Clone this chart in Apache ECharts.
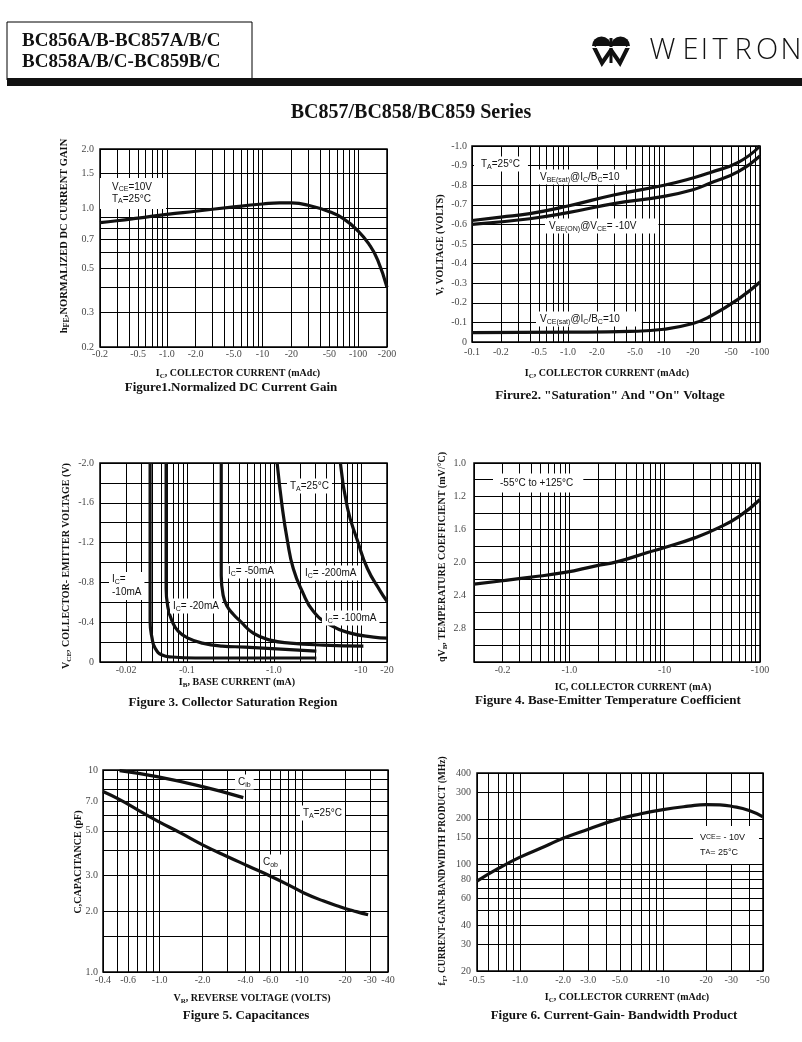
<!DOCTYPE html>
<html><head><meta charset="utf-8">
<script src="https://cdn.jsdelivr.net/npm/echarts@6/dist/echarts.min.js"></script>
<style>html,body{margin:0;padding:0;background:#fff}#c{width:802px;height:1042px}</style>
</head><body><div id="c"></div>
<script>
// ---------- Figure 1: normalized DC current gain ----------
const f1XTicks = [0.2, 0.5, 1, 2, 5, 10, 20, 50, 100, 200];
const f1XLabels = ['-0.2', '-0.5', '-1.0', '-2.0', '-5.0', '-10', '-20', '-50', '-100', '-200'];
const f1YTicks = [0.2, 0.3, 0.5, 0.7, 1.0, 1.5, 2.0];
const f1YLabels = ['0.2', '0.3', '0.5', '0.7', '1.0', '1.5', '2.0'];
const f1XGrid = [0.2, 0.3, 0.4, 0.5, 0.6, 0.7, 0.8, 0.9, 1, 2, 3, 4, 5, 6, 7, 8, 9, 10, 20, 30, 40, 50, 60, 70, 80, 90, 100, 200];
const f1YGrid = [0.2, 0.3, 0.4, 0.5, 0.6, 0.7, 0.8, 0.9, 1.0, 1.5, 2.0];
const hfe = [[0.2, 0.85], [0.3, 0.868], [0.5, 0.895], [1, 0.935], [2, 0.97], [5, 1.02], [10, 1.055], [15, 1.07], [20, 1.068], [30, 1.04], [50, 0.965], [70, 0.89], [100, 0.77], [130, 0.66], [160, 0.55], [200, 0.40]];

// ---------- Figure 2: saturation and on voltages (magnitudes, volts) ----------
const f2XTicks = [0.1, 0.2, 0.5, 1, 2, 5, 10, 20, 50, 100];
const f2XLabels = ['-0.1', '-0.2', '-0.5', '-1.0', '-2.0', '-5.0', '-10', '-20', '-50', '-100'];
const f2YTicks = [0, 0.1, 0.2, 0.3, 0.4, 0.5, 0.6, 0.7, 0.8, 0.9, 1.0];
const f2YLabels = ['0', '-0.1', '-0.2', '-0.3', '-0.4', '-0.5', '-0.6', '-0.7', '-0.8', '-0.9', '-1.0'];
const f2XGrid = [0.1, 0.2, 0.3, 0.4, 0.5, 0.6, 0.7, 0.8, 0.9, 1, 2, 3, 4, 5, 6, 7, 8, 9, 10, 20, 30, 40, 50, 60, 70, 80, 90, 100];
const f2YGrid = [0, 0.1, 0.2, 0.3, 0.4, 0.5, 0.6, 0.7, 0.8, 0.9, 1.0];
const vbeSat = [[0.1, 0.62], [0.2, 0.637], [0.4, 0.655], [1, 0.694], [3, 0.75], [10, 0.80], [20, 0.837], [30, 0.864], [60, 0.918], [100, 1.0]];
const vbeOn = [[0.1, 0.60], [0.4, 0.629], [1, 0.66], [3, 0.706], [10, 0.743], [20, 0.777], [30, 0.81], [60, 0.871], [100, 0.95]];
const vceSat = [[0.1, 0.048], [1, 0.05], [4.4, 0.054], [10, 0.065], [20, 0.094], [30, 0.13], [60, 0.22], [100, 0.306]];

// ---------- Figure 3: collector saturation region ----------
const f3XTicks = [0.02, 0.1, 1, 10, 20];
const f3XLabels = ['-0.02', '-0.1', '-1.0', '-10', '-20'];
const f3YTicks = [0, 0.4, 0.8, 1.2, 1.6, 2.0];
const f3YLabels = ['0', '-0.4', '-0.8', '-1.2', '-1.6', '-2.0'];
const f3XGrid = [0.01, 0.02, 0.03, 0.04, 0.05, 0.06, 0.07, 0.08, 0.09, 0.1, 0.2, 0.3, 0.4, 0.5, 0.6, 0.7, 0.8, 0.9, 1, 2, 3, 4, 5, 6, 7, 8, 9, 10, 20];
const f3YGrid = [0, 0.2, 0.4, 0.6, 0.8, 1.0, 1.2, 1.4, 1.6, 1.8, 2.0];
const ic10 = [[0.0377, 2.0], [0.0377, 0.9], [0.0377, 0.41], [0.0397, 0.24], [0.043, 0.14], [0.0518, 0.07], [0.0675, 0.05], [0.124, 0.04], [3.08, 0.04]];
const ic20 = [[0.0576, 2.0], [0.0576, 1.2], [0.0576, 0.74], [0.0607, 0.54], [0.0675, 0.41], [0.0792, 0.31], [0.103, 0.24], [0.15, 0.19], [0.254, 0.16], [0.469, 0.15], [3.08, 0.11]];
const ic50 = [[0.248, 2.0], [0.248, 1.4], [0.248, 0.87], [0.261, 0.67], [0.29, 0.56], [0.341, 0.48], [0.41, 0.41], [0.579, 0.29], [0.909, 0.22], [1.54, 0.19], [3.71, 0.17], [10.7, 0.16]];
const ic100 = [[1.09, 2.0], [1.25, 1.55], [1.43, 1.22], [1.67, 0.94], [2.12, 0.71], [2.84, 0.51], [4.46, 0.37], [7.59, 0.29], [14.0, 0.25], [20, 0.24]];
const ic200 = [[5.82, 2.0], [7.01, 1.55], [9.14, 1.22], [11.9, 0.94], [16.8, 0.71], [20, 0.61]];

// ---------- Figure 4: base-emitter temperature coefficient ----------
const f4XTicks = [0.2, 1, 10, 100];
const f4XLabels = ['-0.2', '-1.0', '-10', '-100'];
const f4YTicks = [0.8, 1.2, 1.6, 2.0, 2.4, 2.8];
const f4YLabels = ['1.0', '1.2', '1.6', '2.0', '2.4', '2.8'];
const f4XGrid = [0.1, 0.2, 0.3, 0.4, 0.5, 0.6, 0.7, 0.8, 0.9, 1, 2, 3, 4, 5, 6, 7, 8, 9, 10, 20, 30, 40, 50, 60, 70, 80, 90, 100];
const f4YGrid = [0.8, 1.0, 1.2, 1.4, 1.6, 1.8, 2.0, 2.2, 2.4, 2.6, 2.8, 3.0, 3.2];
const tempCo = [[0.1, 2.26], [0.2, 2.22], [0.38, 2.18], [0.9, 2.12], [1.9, 2.04], [3.2, 1.99], [6.6, 1.88], [10, 1.82], [21, 1.70], [37, 1.58], [61, 1.44], [100, 1.24]];

// ---------- Figure 5: capacitances ----------
const f5XTicks = [0.4, 0.6, 1, 2, 4, 6, 10, 20, 30, 40];
const f5XLabels = ['-0.4', '-0.6', '-1.0', '-2.0', '-4.0', '-6.0', '-10', '-20', '-30', '-40'];
const f5YTicks = [1, 2, 3, 5, 7, 10];
const f5YLabels = ['1.0', '2.0', '3.0', '5.0', '7.0', '10'];
const f5XGrid = [0.4, 0.5, 0.6, 0.7, 0.8, 0.9, 1, 2, 3, 4, 5, 6, 7, 8, 9, 10, 20, 30, 40];
const f5YGrid = [1, 1.5, 2, 3, 4, 5, 6, 7, 8, 9, 10];
const cib = [[0.523, 9.93], [0.956, 9.27], [2.0, 8.27], [3.86, 7.3]];
const cob = [[0.4, 7.82], [0.52, 7.15], [0.7, 6.35], [0.96, 5.6], [1.4, 4.88], [2.0, 4.26], [3.0, 3.72], [4.2, 3.34], [6.0, 2.98], [8.0, 2.7], [10.2, 2.47], [14, 2.25], [18.6, 2.1], [24, 1.99], [29, 1.92]];

// ---------- Figure 6: current-gain-bandwidth product ----------
const f6XTicks = [0.5, 1, 2, 3, 5, 10, 20, 30, 50];
const f6XLabels = ['-0.5', '-1.0', '-2.0', '-3.0', '-5.0', '-10', '-20', '-30', '-50'];
const f6YTicks = [20, 30, 40, 60, 80, 100, 150, 200, 300, 400];
const f6YLabels = ['20', '30', '40', '60', '80', '100', '150', '200', '300', '400'];
const f6XGrid = [0.5, 0.6, 0.7, 0.8, 0.9, 1, 2, 3, 4, 5, 6, 7, 8, 9, 10, 20, 30, 40, 50];
const f6YGrid = [20, 30, 40, 50, 60, 70, 80, 90, 100, 150, 200, 300, 400];
const fT = [[0.5, 78], [0.7, 94], [1.0, 112], [1.5, 132], [2.0, 149], [3.0, 171], [4.6, 196], [7.0, 216], [10, 230], [15, 242], [20, 248], [25, 247], [30, 242], [40, 227], [50, 206]];

// ---------- layout ----------
const SERIF = '"Liberation Serif","Times New Roman",serif';
const SANS = '"Liberation Sans",Arial,sans-serif';

const panels = [
  { rect: [100, 149, 287, 198], x: { type: 'log', min: 0.2, max: 200 }, y: { type: 'log', min: 0.2, max: 2 },
    xGrid: f1XGrid, yGrid: f1YGrid, xTicks: f1XTicks, xLabels: f1XLabels, yTicks: f1YTicks, yLabels: f1YLabels,
    curves: [hfe], xd: 2, yd: 6 },
  { rect: [472, 146, 288, 196], x: { type: 'log', min: 0.1, max: 100 }, y: { type: 'value', min: 0, max: 1 },
    xGrid: f2XGrid, yGrid: f2YGrid, xTicks: f2XTicks, xLabels: f2XLabels, yTicks: f2YTicks, yLabels: f2YLabels,
    curves: [vbeSat, vbeOn, vceSat], xd: 5, yd: 5 },
  { rect: [100, 463, 287, 199], x: { type: 'log', min: 0.01, max: 20 }, y: { type: 'value', min: 0, max: 2 },
    xGrid: f3XGrid, yGrid: f3YGrid, xTicks: f3XTicks, xLabels: f3XLabels, yTicks: f3YTicks, yLabels: f3YLabels,
    curves: [ic10, ic20, ic50, ic100, ic200], xd: 3, yd: 6 },
  { rect: [474, 463, 286, 199], x: { type: 'log', min: 0.1, max: 100 }, y: { type: 'value', min: 0.8, max: 3.2, inverse: true },
    xGrid: f4XGrid, yGrid: f4YGrid, xTicks: f4XTicks, xLabels: f4XLabels, yTicks: f4YTicks, yLabels: f4YLabels,
    curves: [tempCo], xd: 3, yd: 8 },
  { rect: [103, 770, 285, 202], x: { type: 'log', min: 0.4, max: 40 }, y: { type: 'log', min: 1, max: 10 },
    xGrid: f5XGrid, yGrid: f5YGrid, xTicks: f5XTicks, xLabels: f5XLabels, yTicks: f5YTicks, yLabels: f5YLabels,
    curves: [cib, cob], xd: 3, yd: 5 },
  { rect: [477, 773, 286, 198], x: { type: 'log', min: 0.5, max: 50 }, y: { type: 'log', min: 20, max: 400 },
    xGrid: f6XGrid, yGrid: f6YGrid, xTicks: f6XTicks, xLabels: f6XLabels, yTicks: f6YTicks, yLabels: f6YLabels,
    curves: [fT], xd: 4, yd: 6 }
];

const grids = [], xAxes = [], yAxes = [], series = [];
const hidden = { axisLine: { show: false }, axisTick: { show: false }, axisLabel: { show: false }, splitLine: { show: false } };
const tickFont = { fontFamily: SERIF, fontSize: 10, color: '#111' };

panels.forEach((p, i) => {
  grids.push({ left: p.rect[0], top: p.rect[1], width: p.rect[2], height: p.rect[3], show: true,
    borderColor: '#000', borderWidth: 1.5, backgroundColor: '#fff', containLabel: false, outerBoundsMode: 'none' });
  xAxes.push(Object.assign({ gridIndex: i, type: p.x.type, logBase: 10, min: p.x.min, max: p.x.max }, hidden));
  yAxes.push(Object.assign({ gridIndex: i, type: p.y.type, logBase: 10, min: p.y.min, max: p.y.max, inverse: !!p.y.inverse }, hidden));
  const yBottom = p.y.inverse ? p.y.max : p.y.min;
  series.push({
    type: 'scatter', xAxisIndex: i, yAxisIndex: i, symbolSize: 0, silent: true, clip: false, z: 1,
    data: p.xTicks.map((v, k) => ({ name: p.xLabels[k], value: [v, yBottom] })),
    label: Object.assign({ show: true, position: 'bottom', distance: p.xd, formatter: '{b}' }, tickFont),
    markLine: {
      silent: true, symbol: ['none', 'none'], animation: false, label: { show: false },
      lineStyle: { color: '#000', width: 1, type: 'solid', opacity: 1 }, emphasis: { disabled: true },
      data: p.xGrid.map(v => ({ xAxis: v })).concat(p.yGrid.map(v => ({ yAxis: v })))
    }
  });
  series.push({
    type: 'scatter', xAxisIndex: i, yAxisIndex: i, symbolSize: 0, silent: true, clip: false, z: 1,
    data: p.yTicks.map((v, k) => ({ name: p.yLabels[k], value: [p.x.min, v] })),
    label: Object.assign({ show: true, position: 'left', distance: p.yd, formatter: '{b}' }, tickFont)
  });
  p.curves.forEach(c => series.push({
    type: 'line', xAxisIndex: i, yAxisIndex: i, data: c, smooth: 0.5, showSymbol: false, symbol: 'none',
    silent: true, z: 5, lineStyle: { color: '#111', width: 3.2, cap: 'butt', join: 'round' }
  }));
});

// ---------- text helpers ----------
function richFor(fs, family, weight) {
  return {
    s: { fontSize: Math.round(fs * 0.72), fontFamily: family, fontWeight: weight, verticalAlign: 'bottom', lineHeight: Math.round(fs * 0.85), fill: '#111' },
    sc: { fontSize: Math.round(fs * 0.75), fontFamily: family, fontWeight: weight, lineHeight: Math.round(fs * 1.3), fill: '#111' }
  };
}
function txt(text, x, y, o) {
  o = o || {};
  const fs = o.fs || 10, fam = o.fam || SERIF, fw = o.fw || 'normal';
  const style = {
    text: text, fill: '#111', fontSize: fs, fontFamily: fam, fontWeight: fw,
    align: o.align || 'left', verticalAlign: o.va || 'middle', lineHeight: o.lh || Math.round(fs * 1.3),
    rich: richFor(fs, fam, fw)
  };
  if (o.bg) { style.backgroundColor = '#fff'; style.padding = o.pad || [1, 3]; }
  return { type: 'text', x: x, y: y, rotation: o.rot || 0, z: 50, silent: true, style: style };
}
const axT = (t, x, y) => txt(t, x, y, { fs: 10, fw: 'bold', align: 'center' });
const axY = (t, x, y, fs) => txt(t, x, y, { fs: fs || 10, fw: 'bold', align: 'center', rot: Math.PI / 2 });
const cap = (t, x, y) => txt(t, x, y, { fs: 13, fw: 'bold', align: 'center' });
const ann = (t, x, y, pad, extra) => txt(t, x, y, Object.assign({ fs: 10, fam: SANS, bg: true, pad: pad || [1, 3] }, extra || {}));

const elements = [
  // header
  { type: 'rect', z: 50, shape: { x: 7, y: 22, width: 245, height: 58 }, style: { fill: 'none', stroke: '#000', lineWidth: 1 } },
  { type: 'rect', z: 50, shape: { x: 7, y: 78, width: 795, height: 8 }, style: { fill: '#111' } },
  txt('BC856A/B-BC857A/B/C', 22, 41, { fs: 19, fw: 'bold' }),
  txt('BC858A/B/C-BC859B/C', 22, 62, { fs: 19, fw: 'bold' }),
  txt('BC857/BC858/BC859 Series', 411, 113, { fs: 20, fw: 'bold', align: 'center' }),
  // logo icon
  { type: 'sector', z: 50, shape: { cx: 601.5, cy: 46, r: 9.5, r0: 0, startAngle: Math.PI, endAngle: 2 * Math.PI }, style: { fill: '#111' } },
  { type: 'sector', z: 50, shape: { cx: 620.5, cy: 46, r: 9.5, r0: 0, startAngle: Math.PI, endAngle: 2 * Math.PI }, style: { fill: '#111' } },
  { type: 'polyline', z: 51, shape: { points: [[594, 47], [602, 63], [611, 50], [620, 63], [628, 47]] }, style: { stroke: '#111', lineWidth: 4, fill: 'none' } },
  { type: 'line', z: 51, shape: { x1: 611, y1: 38, x2: 611, y2: 63 }, style: { stroke: '#111', lineWidth: 3 } },
  { type: 'line', z: 52, shape: { x1: 592, y1: 47.5, x2: 630, y2: 47.5 }, style: { stroke: '#fff', lineWidth: 1.2 } }
];
[['W', 662.5], ['E', 690.5], ['I', 704.5], ['T', 720], ['R', 743], ['O', 767], ['N', 791]].forEach(l => {
  elements.push(txt(l[0], l[1], 51, { fs: 29, fam: '"Open Sans","DejaVu Sans",sans-serif', fw: 300, align: 'center' }));
});

elements.push(
  // Figure 1
  axY('h{s|FE},NORMALIZED DC CURRENT GAIN', 64, 236, 10.5),
  axT('I{s|C}, COLLECTOR CURRENT (mAdc)', 238, 373),
  cap('Figure1.Normalized DC Current Gain', 231, 388),
  ann('V{s|CE}=10V\nT{s|A}=25°C', 100, 178, [3, 14, 4, 12], { va: 'top', lh: 12 }),
  // Figure 2
  axY('V, VOLTAGE (VOLTS)', 440, 245),
  axT('I{s|C}, COLLECTOR CURRENT (mAdc)', 607, 373),
  cap('Firure2. "Saturation" And "On" Voltage', 610, 396),
  ann('T{s|A}=25°C', 474, 164, [1, 8, 1, 7]),
  ann('V{s|BE(sat)}@I{s|C}/B{s|C}=10', 536, 177, [1, 14, 1, 4]),
  ann('V{s|BE(ON)}@V{s|CE}= -10V', 545, 226, [1, 22, 1, 4]),
  ann('V{s|CE(sat)}@I{s|C}/B{s|C}=10', 536, 319, [1, 22, 1, 4]),
  // Figure 3
  axY('V{s|CE}, COLLECTOR- EMITTER VOLTAGE (V)', 66, 566),
  axT('I{s|B}, BASE CURRENT (mA)', 237, 682),
  cap('Figure 3. Collector Saturation Region', 233, 703),
  ann('T{s|A}=25°C', 287, 486),
  ann('I{s|C}= -50mA', 225, 571),
  ann('I{s|C}= -200mA', 302, 573),
  ann('I{s|C}=\n-10mA', 109, 586, [1, 3], { lh: 13 }),
  ann('I{s|C}= -20mA', 170, 606),
  ann('I{s|C}= -100mA', 322, 618),
  // Figure 4
  axY('qV{s|B}, TEMPERATURE COEFFICIENT (mV/°C)', 442, 557),
  axT('IC, COLLECTOR CURRENT (mA)', 633, 687),
  cap('Figure 4. Base-Emitter Temperature Coefficient', 608, 701),
  ann('-55°C to +125°C', 493, 483, [3, 10, 3, 7]),
  // Figure 5
  axY('C,CAPACITANCE (pF)', 78, 862),
  axT('V{s|R}, REVERSE VOLTAGE (VOLTS)', 252, 998),
  cap('Figure 5. Capacitances', 246, 1016),
  ann('C{s|ib}', 235, 782),
  ann('T{s|A}=25°C', 300, 813),
  ann('C{s|ob}', 260, 862),
  // Figure 6
  axY('f{s|T}, CURRENT-GAIN-BANDWIDTH PRODUCT (MHz)', 443, 871, 9.5),
  axT('I{s|C}, COLLECTOR CURRENT (mAdc)', 627, 997),
  cap('Figure 6. Current-Gain- Bandwidth Product', 614, 1016),
  ann('V{sc|CE}= - 10V\nT{sc|A}= 25°C', 693, 845, [4, 14, 4, 7], { fs: 9, lh: 15 })
);

const chart = echarts.init(document.getElementById('c'), null, { renderer: 'canvas' });
chart.setOption({
  animation: false,
  backgroundColor: '#fff',
  textStyle: { fontFamily: SERIF },
  grid: grids, xAxis: xAxes, yAxis: yAxes, series: series,
  graphic: { elements: elements }
});
</script>
</body></html>
